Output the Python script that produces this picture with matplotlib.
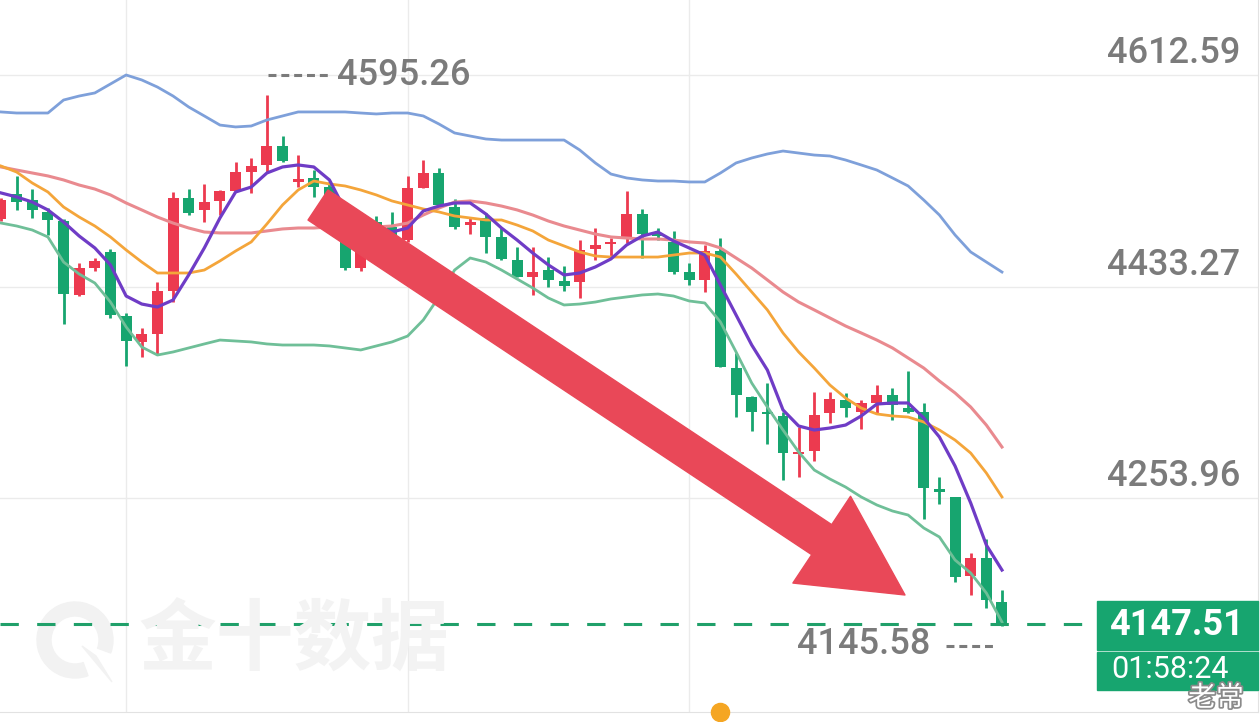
import matplotlib
matplotlib.use('Agg')
import matplotlib.pyplot as plt
from matplotlib.patches import Rectangle, Wedge, Polygon
from matplotlib.transforms import offset_copy, IdentityTransform
import matplotlib.patheffects as pe

# candle data
opens = [4490.6, 4511.8, 4506.7, 4496.6, 4488.9, 4426.3, 4449.1, 4462.7, 4408.5, 4386.4,
         4393.2, 4429.6, 4508.4, 4498.3, 4505.9, 4514.3, 4530.4, 4536.4, 4552.5, 4522.0,
         4525.4, 4517.7, 4474.5, 4449.1, 4488.1, 4483.8, 4472.8, 4516.9, 4529.6, 4500.8,
         4485.5, 4491.5, 4475.4, 4455.9, 4441.5, 4447.4, 4438.1, 4437.3, 4465.2, 4469.5,
         4474.5, 4494.9, 4478.8, 4471.1, 4445.7, 4439.0, 4463.5, 4364.4, 4339.9, 4327.1,
         4323.8, 4291.6, 4294.1, 4326.3, 4337.3, 4327.1, 4334.8, 4341.6, 4330.5, 4327.1,
         4261.9, 4255.2, 4188.2, 4203.5, 4166.2]
highs = [4508.4, 4527.1, 4516.0, 4499.9, 4490.6, 4453.4, 4457.6, 4465.2, 4411.0, 4398.3,
         4437.3, 4513.5, 4516.0, 4520.3, 4515.2, 4538.9, 4542.3, 4595.26, 4560.9, 4544.8,
         4532.1, 4522.0, 4481.3, 4477.1, 4493.2, 4496.6, 4527.1, 4540.6, 4533.8, 4507.6,
         4491.5, 4495.7, 4483.0, 4466.9, 4466.9, 4458.4, 4450.8, 4472.8, 4483.0, 4474.5,
         4514.3, 4499.1, 4483.0, 4480.5, 4453.4, 4468.6, 4474.5, 4377.1, 4340.7, 4351.7,
         4327.1, 4314.4, 4344.1, 4344.1, 4343.2, 4337.3, 4350.0, 4347.5, 4361.9, 4334.8,
         4272.1, 4255.5, 4207.7, 4219.6, 4176.4]
lows = [4488.9, 4498.3, 4491.5, 4477.1, 4401.7, 4425.4, 4446.6, 4406.8, 4366.1, 4373.7,
        4376.3, 4420.3, 4494.0, 4488.1, 4494.0, 4513.5, 4512.6, 4530.4, 4539.0, 4517.7,
        4509.3, 4502.5, 4447.4, 4446.6, 4476.2, 4472.8, 4471.1, 4516.9, 4502.5, 4482.2,
        4477.9, 4461.8, 4455.9, 4441.5, 4426.3, 4433.0, 4429.6, 4423.7, 4455.9, 4457.6,
        4470.3, 4457.6, 4472.8, 4444.0, 4434.7, 4428.8, 4365.3, 4322.9, 4311.1, 4300.1,
        4269.6, 4272.1, 4285.6, 4317.8, 4322.9, 4312.8, 4326.3, 4320.4, 4326.3, 4236.5,
        4249.2, 4183.2, 4172.2, 4161.1, 4145.58]
closes = [4506.7, 4505.0, 4498.3, 4489.8, 4427.1, 4449.1, 4455.1, 4409.3, 4387.3, 4393.2,
          4429.6, 4508.4, 4495.7, 4505.0, 4514.3, 4530.4, 4535.5, 4552.5, 4539.8, 4524.5,
          4517.7, 4506.7, 4449.1, 4470.3, 4479.6, 4474.5, 4516.9, 4529.6, 4502.5, 4483.8,
          4488.1, 4475.4, 4456.7, 4441.5, 4445.7, 4439.0, 4433.9, 4464.4, 4468.6, 4471.1,
          4494.9, 4477.9, 4476.2, 4445.7, 4439.0, 4463.5, 4365.3, 4341.6, 4327.1, 4325.5,
          4292.4, 4293.3, 4324.6, 4338.2, 4330.5, 4334.8, 4341.6, 4333.1, 4327.1, 4262.8,
          4259.4, 4187.4, 4203.5, 4167.9, 4147.51]

# indicator lines
boll_upper = [4581.3, 4580.4, 4580.4, 4580.4, 4591.4, 4594.8, 4597.4, 4605.0, 4612.6, 4608.4,
              4602.4, 4594.8, 4585.5, 4577.9, 4570.2, 4568.6, 4569.4, 4574.5, 4577.9, 4581.3,
              4581.3, 4581.3, 4581.3, 4580.4, 4579.6, 4580.4, 4580.4, 4577.9, 4571.1, 4563.5,
              4560.9, 4558.4, 4557.5, 4557.5, 4557.5, 4557.5, 4557.5, 4549.1, 4538.1, 4528.7,
              4525.4, 4523.7, 4522.8, 4522.8, 4522.0, 4522.0, 4529.6, 4538.1, 4542.3, 4545.7,
              4548.2, 4546.5, 4544.8, 4544.0, 4540.6, 4536.4, 4532.1, 4525.4, 4518.6, 4506.7,
              4494.0, 4477.1, 4462.7, 4454.2, 4445.7]
boll_lower = [4487.2, 4484.7, 4481.3, 4475.4, 4454.2, 4444.0, 4436.4, 4420.3, 4399.2, 4382.2,
              4375.4, 4378.0, 4381.4, 4384.8, 4388.1, 4387.3, 4386.5, 4384.8, 4383.9, 4383.9,
              4383.9, 4383.1, 4381.4, 4379.7, 4383.1, 4386.5, 4391.5, 4405.1, 4424.6, 4447.4,
              4457.6, 4454.2, 4447.4, 4439.8, 4432.2, 4423.7, 4417.8, 4418.6, 4420.3, 4422.9,
              4424.6, 4426.3, 4427.1, 4425.4, 4421.2, 4419.5, 4403.4, 4378.0, 4351.7, 4331.4,
              4311.9, 4293.3, 4278.0, 4270.4, 4263.6, 4255.2, 4248.4, 4243.3, 4239.9, 4228.9,
              4221.3, 4201.8, 4190.8, 4173.9, 4149.3]
boll_mid = [4534.7, 4532.1, 4529.6, 4527.1, 4523.7, 4519.4, 4516.0, 4511.0, 4504.2, 4498.3,
            4492.3, 4487.2, 4483.0, 4479.6, 4478.8, 4478.8, 4478.8, 4480.5, 4482.2, 4483.0,
            4483.0, 4483.9, 4483.9, 4483.9, 4483.9, 4484.7, 4487.2, 4494.0, 4499.9, 4505.0,
            4505.9, 4504.2, 4501.6, 4498.3, 4494.0, 4488.9, 4484.7, 4481.3, 4477.9, 4475.4,
            4474.5, 4473.7, 4473.7, 4472.8, 4471.2, 4470.3, 4466.1, 4457.6, 4449.1, 4439.0,
            4428.8, 4420.3, 4413.6, 4406.8, 4400.0, 4394.1, 4388.1, 4381.4, 4372.9, 4364.4,
            4353.4, 4343.3, 4331.4, 4316.1, 4297.5]
ma10 = [4535.5, 4530.4, 4521.1, 4513.5, 4500.8, 4492.3, 4484.7, 4475.4, 4464.4, 4454.2,
        4444.9, 4444.9, 4444.9, 4447.4, 4455.1, 4463.5, 4471.2, 4486.4, 4502.5, 4515.2,
        4522.8, 4520.3, 4518.6, 4515.2, 4511.0, 4505.9, 4502.5, 4499.1, 4496.6, 4493.2,
        4491.5, 4489.8, 4489.8, 4485.5, 4480.5, 4472.8, 4467.8, 4462.7, 4459.3, 4458.4,
        4458.4, 4458.4, 4458.4, 4460.1, 4461.8, 4461.8, 4458.4, 4444.0, 4428.8, 4413.6,
        4394.1, 4378.0, 4364.4, 4350.0, 4339.0, 4330.5, 4325.5, 4323.8, 4322.9, 4318.7,
        4311.9, 4303.4, 4292.4, 4275.5, 4255.2]
ma5 = [4512.7, 4509.3, 4505.0, 4498.3, 4488.1, 4476.2, 4466.1, 4451.7, 4425.4, 4418.6,
       4416.1, 4422.0, 4443.2, 4466.1, 4491.5, 4513.5, 4517.7, 4529.6, 4534.7, 4536.4,
       4534.7, 4523.7, 4498.3, 4491.5, 4484.7, 4479.6, 4483.0, 4497.4, 4501.6, 4504.2,
       4504.2, 4494.9, 4483.0, 4472.8, 4461.8, 4451.7, 4443.2, 4444.9, 4450.0, 4456.8,
       4468.6, 4476.2, 4479.6, 4472.0, 4466.1, 4460.1, 4434.7, 4409.3, 4383.9, 4362.7,
       4328.9, 4315.3, 4311.9, 4313.6, 4316.1, 4323.8, 4333.9, 4334.8, 4334.8, 4322.1,
       4306.0, 4281.4, 4250.1, 4214.5, 4193.3]

grid_levels = [4612.59, 4433.27, 4253.96]
last_price = 4147.51
high_label = 4595.26
low_label = 4145.58

RED = '#ec3a4f'
GREEN = '#17a56f'
GRAY = '#7b7b7b'
NUMFONT = ['Roboto', 'DejaVu Sans']

fig = plt.figure(figsize=(12.6, 7.22), dpi=100, facecolor='white')
ax = fig.add_axes([0, 10 / 722, 1258 / 1260, 712 / 722])
ax.set_facecolor('white')

xs = list(range(len(opens)))
cols = [RED if c >= o else GREEN for o, c in zip(opens, closes)]
bottoms = [min(o, c) for o, c in zip(opens, closes)]
heights = [max(abs(c - o), 2.0) for o, c in zip(opens, closes)]
ax.vlines(xs, lows, highs, colors=cols, lw=2, zorder=3)
ax.bar(xs, heights, bottom=bottoms, width=0.7, color=cols, zorder=3)

ax.plot(xs, boll_upper, color='#7ea0da', lw=2, zorder=4)
ax.plot(xs, boll_lower, color='#6fbf98', lw=2, zorder=4)
ax.plot(xs, boll_mid, color='#e98a8f', lw=2.2, zorder=4)
ax.plot(xs, ma10, color='#f4a53a', lw=2, zorder=4)
ax.plot(xs, ma5, color='#6f3cc6', lw=2.3, zorder=5)

# grid
ax.set_yticks(grid_levels)
ax.set_xticks([8, 26, 44])
ax.grid(True, color='#ebebeb', lw=1)
ax.set_axisbelow(True)
ax.tick_params(length=0, labelleft=False, labelbottom=False)
for s in ['left', 'top']:
    ax.spines[s].set_visible(False)
for s in ['right', 'bottom']:
    ax.spines[s].set_color('#e2e2e2')

for v in grid_levels:
    ax.annotate(f'{v:.2f}', xy=(1, v), xycoords=('axes fraction', 'data'),
                xytext=(-18, 12), textcoords='offset pixels', ha='right', va='baseline',
                fontsize=26, fontweight='medium', color=GRAY, family=NUMFONT)

# last price line
ax.axhline(last_price, color='#20a06a', lw=2.2, ls=(0, (6, 6)), zorder=6)

# high / low markers
ax.plot([17.1, 21], [high_label, high_label], color=GRAY, lw=2.2, ls=(0, (2.6, 1.6)),
        transform=offset_copy(ax.transData, fig=fig, x=0, y=20, units='dots'))
ax.annotate(f'{high_label:.2f}', xy=(21, high_label), xytext=(8, 20), textcoords='offset pixels',
            ha='left', va='center', fontsize=26, fontweight='medium', color=GRAY, family=NUMFONT)
ax.plot([60.4, 63.6], [low_label, low_label], color=GRAY, lw=2.2, ls=(0, (2.6, 1.6)),
        transform=offset_copy(ax.transData, fig=fig, x=0, y=-20, units='dots'))
ax.annotate(f'{low_label:.2f}', xy=(64, low_label), xytext=(-72, -18), textcoords='offset pixels',
            ha='right', va='center', fontsize=26, fontweight='medium', color=GRAY, family=NUMFONT)

# price box
ax.add_patch(Rectangle((1097, 72), 161, 49, transform=IdentityTransform(), color=GREEN,
                       clip_on=False, zorder=7))
ax.add_patch(Rectangle((1097, 32), 161, 38, transform=IdentityTransform(), color=GREEN,
                       clip_on=False, zorder=7))
fig.text(1176, 97, f'{last_price:.2f}', transform=IdentityTransform(), ha='center', va='center',
         fontsize=26, fontweight='bold', color='white', family=NUMFONT, zorder=8)
fig.text(1170, 52, '01:58:24', transform=IdentityTransform(), ha='center', va='center',
         fontsize=22, color='white', family=NUMFONT, zorder=8)

# big arrow
ax.annotate('', xy=(905, 127), xytext=(318, 517), xycoords='figure pixels',
            textcoords='figure pixels',
            arrowprops=dict(arrowstyle='simple,head_length=0.72,head_width=0.75,tail_width=0.26',
                            color='#e94858', shrinkA=0, shrinkB=0, mutation_scale=100),
            zorder=9)

# watermark
ax.add_patch(Wedge((75, 82), 38, -20, 290, width=14, transform=IdentityTransform(),
                   color='#f2f2f2', zorder=1))
ax.add_patch(Polygon([(82, 76), (96, 66), (112, 40)], closed=True, transform=IdentityTransform(),
                     color='#f2f2f2', zorder=1))
fig.text(138, 80, '金十数据', transform=IdentityTransform(), ha='left', va='center',
         fontsize=56, fontweight='bold', color='#f3f3f3', family=['Noto Sans CJK SC'], zorder=0)

fig.text(1216, 24, '老常', transform=IdentityTransform(), ha='center', va='center',
         fontsize=20, color='white', family=['Noto Sans CJK SC'], zorder=10,
         path_effects=[pe.withStroke(linewidth=2.5, foreground='#8a8a8a')])

ax.scatter([46], [4073.06], s=170, color='#f5a623', clip_on=False, zorder=10)

ax.set_xlim(-0.064, 80.37)
ax.set_ylim(4073.06, 4676.12)

fig.savefig('out.png', dpi=100, facecolor='white')
